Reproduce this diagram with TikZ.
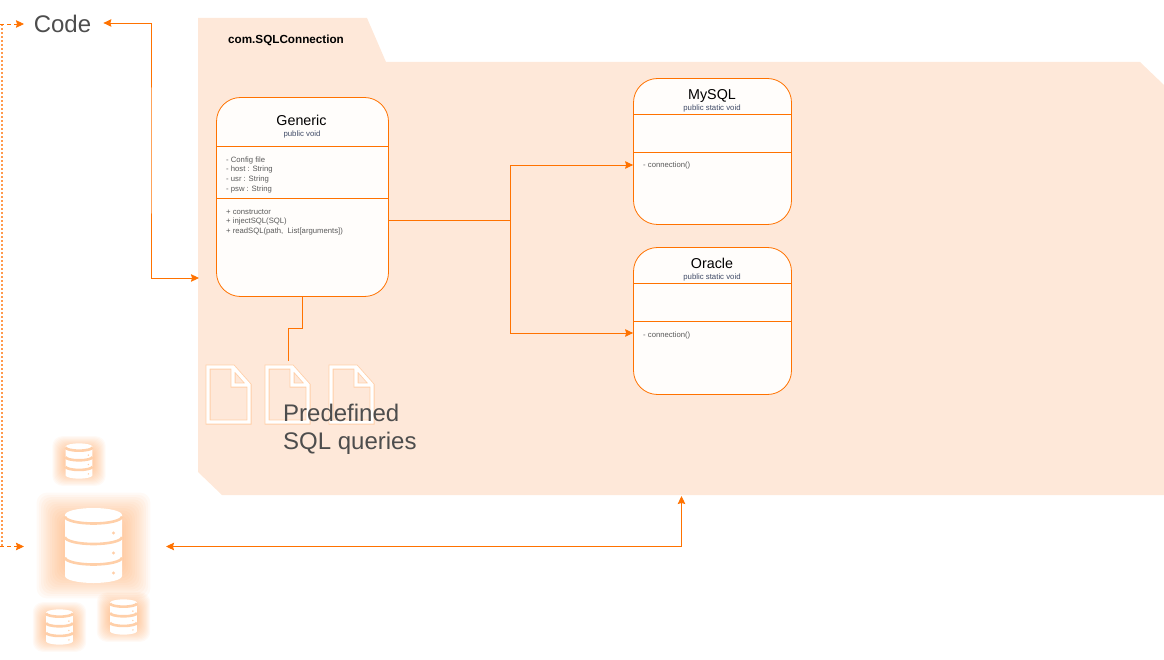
\documentclass[tikz,border=0pt]{standalone}
\usepackage{fontspec}
\setmainfont{Liberation Sans}
\usetikzlibrary{arrows.meta}

\definecolor{linkorange}{HTML}{FF7200}
\definecolor{packfill}{HTML}{FEE8D9}
\definecolor{boxfill}{HTML}{FFFDFB}
\definecolor{glow}{HTML}{FF9A4D}
\definecolor{gapfill}{HTML}{FFCFA8}
\definecolor{greytext}{HTML}{4D4D4D}
\definecolor{smalltext}{HTML}{5A5A5A}
\definecolor{modtext}{HTML}{3F4A66}

\tikzset{
    classbox/.style={draw=linkorange, fill=boxfill, line width=0.8pt, rounded corners=24pt, inner sep=0pt},
    classname/.style={font=\fontsize{14.3}{16}\selectfont, text=black, inner sep=0pt, anchor=base},
    modifiers/.style={font=\fontsize{7.8}{9}\selectfont, text=modtext, inner sep=0pt},
    members/.style={font=\fontsize{7.7}{9.6}\selectfont, text=smalltext, align=left, anchor=north west, inner sep=0pt},
    divider/.style={draw=linkorange, line width=0.8pt},
    bigtext/.style={font=\fontsize{24}{28.5}\selectfont, text=greytext, inner sep=0pt, align=left},
    link/.style={draw=linkorange, line width=0.9pt},
    sidelink/.style={draw=linkorange, line width=0.8pt, dashed, dash pattern=on 4pt off 3pt},
    docicon/.pic={
        \draw [gapfill, line width=5pt, line join=miter] (0,0) -- (25,0) -- (41,18) -- (41,55) -- (0,55) -- cycle (25,0) -- (25,18) -- (41,18);
        \draw [white, line width=3.4pt, line join=miter] (0,0) -- (25,0) -- (41,18) -- (41,55) -- (0,55) -- cycle (25,0) -- (25,18) -- (41,18);
    },
    dbicon/.pic={
        % soft square behind the cylinder
        \foreach \g in {1,...,14}
            \fill [glow, opacity=0.05, rounded corners=10pt] (-59+2.2*\g,-55+2.2*\g) rectangle (59-2.2*\g,55-2.2*\g);
        \fill [white] (-28.5,-30.5) -- (-28.5,30.5) arc [start angle=180, end angle=0, x radius=28.5, y radius=7] -- (28.5,-30.5) arc [start angle=0, end angle=-180, x radius=28.5, y radius=7] -- cycle;
        \foreach \h in {-29,-8.5,12}
            \draw [gapfill, line width=2.6pt] (-28.5,\h) arc [start angle=180, end angle=0, x radius=28.5, y radius=7];
        \foreach \h in {-12.5,7.5,27.5}
            \fill [gapfill] (20,\h) circle [radius=1.7];
    },
}

\begin{document}
\begin{tikzpicture}[x=1pt, y=-1pt, >={Stealth[length=8pt, width=7.5pt, inset=1pt]}]
    \useasboundingbox (0,0) rectangle (1164,660);

    % The package with its tab
    \fill [packfill] (198,18) -- (367,18) -- (386,62) -- (1140,62) -- (1164,85) -- (1164,495) -- (222,495) -- (198,472) -- cycle;
    \node (package) [font=\bfseries\fontsize{11.7}{14}\selectfont, inner sep=0pt] at (286,40.5) {com.SQLConnection};
    \coordinate (packbottom) at (681.5,496);
    \coordinate (packleft) at (199,278);

    % Code label
    \node (code) [bigtext] at (62.5,24) {Code};

    % Generic class
    \node (generic) [classbox, minimum width=172pt, minimum height=199pt] at (302.5,197) {};
    \node (genericname) [classname] at (301.5,125.5) {Generic};
    \node (genericmod) [modifiers] at (302,134) {public void};
    \draw [divider] (generic.west |- 0,146.5) -- (generic.east |- 0,146.5);
    \draw [divider] (generic.west |- 0,198.5) -- (generic.east |- 0,198.5);
    \node (genericattr) [members] at (226,156.5) {- Config file\\- host : String\\- usr : String\\- psw : String};
    \node (genericop) [members] at (226,209) {+ constructor\\+ injectSQL(SQL)\\+ readSQL(path,\ \ List[arguments])};

    % MySQL class
    \node (mysql) [classbox, minimum width=158pt, minimum height=146pt] at (712.5,151.5) {};
    \node (mysqlname) [classname] at (712,99.5) {MySQL};
    \node (mysqlmod) [modifiers] at (712,108) {public static void};
    \draw [divider] (mysql.west |- 0,114.5) -- (mysql.east |- 0,114.5);
    \draw [divider] (mysql.west |- 0,152.5) -- (mysql.east |- 0,152.5);
    \node (mysqlop) [members] at (643,161.5) {- connection()};

    % Oracle class
    \node (oracle) [classbox, minimum width=158pt, minimum height=147pt] at (712.5,321) {};
    \node (oraclename) [classname] at (712,268.5) {Oracle};
    \node (oraclemod) [modifiers] at (712,277) {public static void};
    \draw [divider] (oracle.west |- 0,283.5) -- (oracle.east |- 0,283.5);
    \draw [divider] (oracle.west |- 0,321.5) -- (oracle.east |- 0,321.5);
    \node (oracleop) [members] at (643,331.5) {- connection()};

    % Generic splits towards the two drivers
    \coordinate (split) at (510.5,220.5);
    \draw [link] (generic.east |- split) -- (split);
    \draw [link, ->] (split) |- (mysql.west |- 0,165);
    \draw [link, ->] (split) |- (oracle.west |- 0,333);

    % Query files and their label
    \pic at (208,367) {docicon};
    \pic at (267,367) {docicon};
    \pic at (331,367) {docicon};
    \coordinate (queries) at (288,361);
    \node (querytext) [bigtext, anchor=north west] at (283,403.5) {Predefined\\SQL queries};
    \draw [link] (generic.south) -- (302.5,328) -| (queries);

    % Databases
    \pic [scale=0.47] at (79,461) {dbicon};
    \pic at (93.5,545.5) {dbicon};
    \pic [scale=0.47] at (59.5,627) {dbicon};
    \pic [scale=0.47] at (123.5,617) {dbicon};
    \coordinate (dbeast) at (166,546.5);
    \coordinate (dbwest) at (24,546.5);

    % Code to package, database to package
    \draw [link, <->] (code.east) ++(12,-1) -| (151,150) |- (packleft);
    \draw [link, <->] (dbeast) -| (packbottom);

    % Left side return path
    \coordinate (codewest) at (24,24);
    \coordinate (sidetop) at (1.5,24);
    \coordinate (sidebottom) at (1.5,546.5);
    \draw [glow, line width=2pt, dash pattern=on 2pt off 2pt] (sidetop) -- (sidebottom);
    \draw [sidelink, ->] (sidetop) ++(-1.5,0) -- (codewest);
    \draw [sidelink, ->] (sidebottom) ++(-1.5,0) -- (dbwest);
\end{tikzpicture}
\end{document}
